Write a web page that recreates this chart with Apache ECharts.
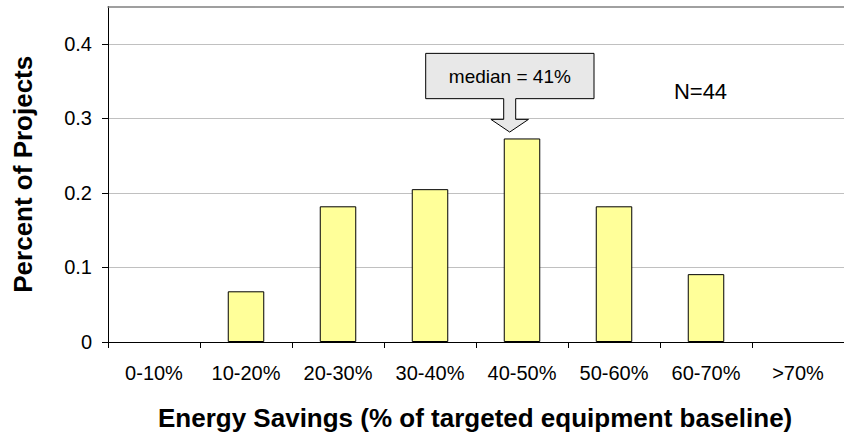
<!DOCTYPE html>
<html>
<head>
<meta charset="utf-8">
<script src="https://cdn.jsdelivr.net/npm/echarts@6/dist/echarts.min.js"></script>
<style>
html,body{margin:0;padding:0;background:#fff;}
#chart{width:844px;height:435px;}
</style>
</head>
<body>
<div id="chart"></div>
<script>
var categories = ['0-10%', '10-20%', '20-30%', '30-40%', '40-50%', '50-60%', '60-70%', '>70%'];
var shareOfProjects = [0, 0.068, 0.182, 0.205, 0.273, 0.182, 0.091, 0];
var yTicks = [0, 0.1, 0.2, 0.3, 0.4];
var medianCategory = '40-50%';
var medianValue = 0.273;
var medianLabel = 'median = 41%';
var countLabel = 'N=44';
var xTitle = 'Energy Savings (% of targeted equipment baseline)';
var yTitle = 'Percent of Projects';

var FONT = 'Arial, "Liberation Sans", sans-serif';
var chart = echarts.init(document.getElementById('chart'), null, {renderer: 'svg'});

var barData = shareOfProjects.map(function (v) {
  return v === 0 ? {value: v, itemStyle: {borderWidth: 0, opacity: 0}} : v;
});

var option = {
  animation: false,
  backgroundColor: '#fff',
  grid: {left: 108, top: 6.5, width: 744, height: 335.5},
  xAxis: [{
    type: 'category',
    data: categories,
    boundaryGap: true,
    axisLine: {lineStyle: {color: '#000', width: 1}},
    axisTick: {show: true, length: 6, lineStyle: {color: '#000'}},
    axisLabel: {color: '#000', fontSize: 20, fontFamily: FONT, margin: 21, interval: 0}
  }, {
    type: 'category',
    data: categories,
    position: 'top',
    axisLine: {show: true, lineStyle: {color: '#808080', width: 1.5}},
    axisTick: {show: false},
    axisLabel: {show: false}
  }],
  yAxis: {
    type: 'value',
    min: 0,
    max: 0.45,
    interval: 0.1,
    name: yTitle,
    nameLocation: 'middle',
    nameGap: 72,
    nameTextStyle: {color: '#000', fontSize: 26, fontWeight: 'bold', fontFamily: FONT},
    axisLine: {show: true, lineStyle: {color: '#000', width: 1}},
    axisTick: {show: true, length: 6, lineStyle: {color: '#000'}, customValues: yTicks},
    axisLabel: {color: '#000', fontSize: 20, fontFamily: FONT, margin: 16, customValues: yTicks,
      formatter: function (v) { return String(Math.round(v * 10) / 10); }},
    splitLine: {show: true, lineStyle: {color: '#C0C0C0', width: 1}}
  },
  series: [{
    type: 'bar',
    data: barData,
    barWidth: 36.5,
    itemStyle: {color: '#FFFF99', borderColor: '#000', borderWidth: 1}
  }]
};
chart.setOption(option);

// Annotation anchored to the median category bar through the chart's own scales
var tip = chart.convertToPixel({xAxisIndex: 0, yAxisIndex: 0}, [medianCategory, medianValue]);
var tx = tip[0] - 12.3;
var ty = tip[1] - 6.4;
var L = tx - 84, R = tx + 84.3, T = ty - 78.7, B = ty - 33.4;
var headY = ty - 12.7;
var pts = [[L, T], [R, T], [R, B], [tx + 6, B], [tx + 6, headY], [tx + 18.8, headY], [tx, ty],
           [tx - 18.8, headY], [tx - 6, headY], [tx - 6, B], [L, B]];

var countPos = chart.convertToPixel({xAxisIndex: 0, yAxisIndex: 0}, ['60-70%', 0.35]);

chart.setOption({
  graphic: [
    {type: 'polygon', shape: {points: pts}, style: {fill: '#E8E8E8', stroke: '#000', lineWidth: 1}, z: 100},
    {type: 'text', style: {x: (L + R) / 2, y: (T + B) / 2, text: medianLabel, fill: '#000',
      font: '19px ' + FONT, textAlign: 'center', textVerticalAlign: 'middle'}, z: 101},
    {type: 'text', style: {x: countPos[0] - 5.5, y: 91, text: countLabel, fill: '#000',
      font: '22px ' + FONT, textAlign: 'center', textVerticalAlign: 'middle'}, z: 101},
    {type: 'text', style: {x: 158, y: 418, text: xTitle, fill: '#000',
      font: 'bold 26px ' + FONT, textAlign: 'left', textVerticalAlign: 'middle'}, z: 101}
  ]
});
</script>
</body>
</html>
